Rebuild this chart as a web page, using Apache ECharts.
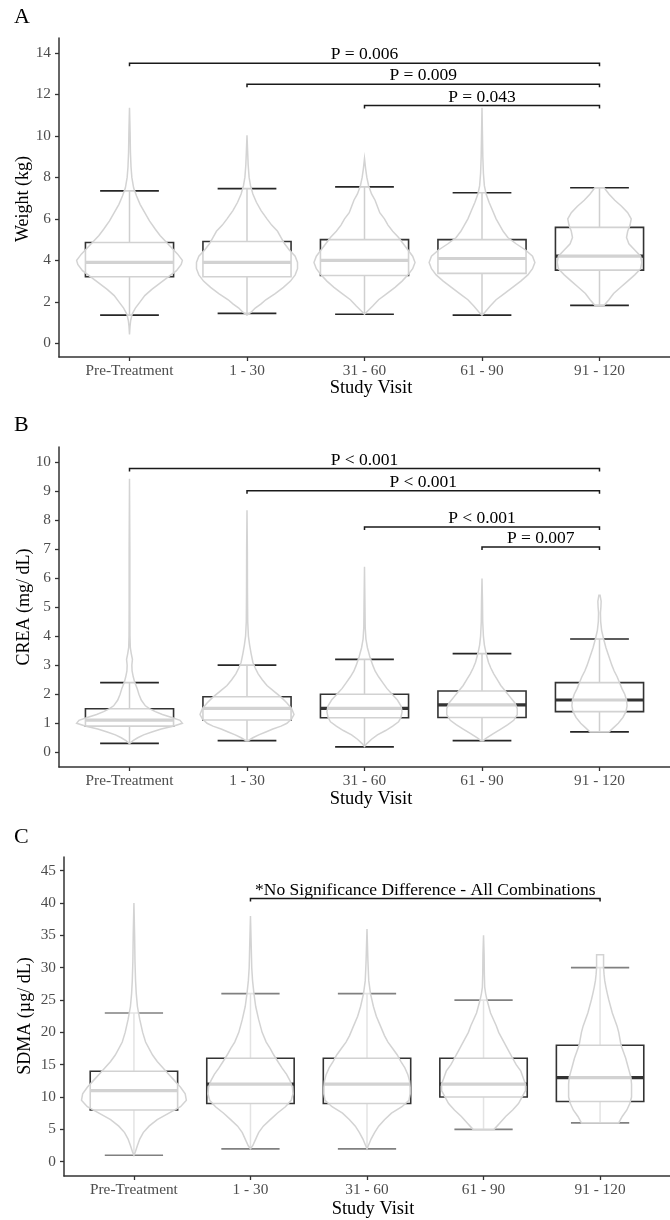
<!DOCTYPE html>
<html><head><meta charset="utf-8">
<script src="https://cdn.jsdelivr.net/npm/echarts@6/dist/echarts.min.js"></script>
<style>html,body{margin:0;padding:0;background:#fff}#chart{width:670px;height:1220px}</style>
</head><body><div id="chart"></div>
<script>
// ---------- shared ----------
const categories = ['Pre-Treatment', '1 - 30', '31 - 60', '61 - 90', '91 - 120'];
const categoryTicks = [0, 1, 2, 3, 4];

// ---------- Panel A : Weight (kg) ----------
const weightTicks = [0, 2, 4, 6, 8, 10, 12, 14];
const weightMin    = [1.36, 1.44, 1.40, 1.36, 1.83];
const weightQ1     = [3.21, 3.21, 3.27, 3.37, 3.53];
const weightMedian = [3.90, 3.90, 4.00, 4.09, 4.20];
const weightQ3     = [4.86, 4.91, 5.00, 5.00, 5.59];
const weightMax    = [7.35, 7.46, 7.54, 7.26, 7.50];
// violin profiles: [value, half-width in category units]
const weightViolinPre = [[0.43,0],[0.8,0.004],[1.1,0.01],[1.4,0.022],[1.7,0.05],[2.0,0.09],[2.3,0.13],[2.6,0.19],[2.9,0.26],[3.2,0.33],[3.5,0.4],[3.8,0.44],[4.0,0.45],[4.3,0.41],[4.6,0.36],[4.9,0.31],[5.2,0.26],[5.5,0.22],[5.9,0.17],[6.3,0.13],[6.7,0.09],[7.1,0.06],[7.5,0.035],[8.0,0.02],[8.5,0.013],[9.2,0.008],[10.2,0.005],[11.36,0]];
const weightViolin1 = [[1.36,0],[1.5,0.035],[1.7,0.07],[1.9,0.12],[2.1,0.16],[2.4,0.24],[2.7,0.31],[3.0,0.37],[3.3,0.41],[3.6,0.43],[3.9,0.43],[4.2,0.41],[4.5,0.36],[4.8,0.32],[5.1,0.29],[5.4,0.26],[5.7,0.21],[6.0,0.17],[6.4,0.12],[6.8,0.08],[7.2,0.05],[7.6,0.03],[8.0,0.018],[8.6,0.01],[9.3,0.005],[10.03,0]];
const weightViolin31 = [[1.4,0],[1.55,0.025],[1.8,0.07],[2.1,0.12],[2.4,0.19],[2.7,0.26],[3.0,0.32],[3.3,0.37],[3.6,0.41],[3.9,0.43],[4.2,0.41],[4.5,0.37],[4.8,0.33],[5.1,0.29],[5.4,0.24],[5.7,0.2],[6.0,0.17],[6.3,0.13],[6.6,0.11],[6.9,0.09],[7.2,0.06],[7.6,0.035],[8.0,0.02],[8.4,0.01],[8.91,0]];
const weightViolin61 = [[1.36,0],[1.5,0.025],[1.8,0.07],[2.1,0.12],[2.4,0.19],[2.7,0.26],[3.0,0.33],[3.3,0.39],[3.6,0.43],[3.9,0.45],[4.2,0.43],[4.5,0.37],[4.8,0.29],[5.1,0.22],[5.4,0.18],[5.7,0.15],[6.0,0.12],[6.4,0.09],[6.8,0.06],[7.2,0.035],[7.6,0.02],[8.2,0.012],[9.0,0.007],[10.0,0.004],[11.36,0]];
const weightViolin91 = [[1.83,0.04],[2.1,0.08],[2.4,0.12],[2.7,0.18],[3.0,0.24],[3.3,0.3],[3.6,0.35],[3.9,0.36],[4.2,0.35],[4.5,0.3],[4.8,0.25],[5.1,0.23],[5.4,0.24],[5.7,0.26],[6.0,0.27],[6.3,0.24],[6.6,0.19],[6.9,0.13],[7.2,0.08],[7.5,0.04]];
const weightBracketFrom = [0, 1, 2];
const weightBracketTo = [4, 4, 4];
const weightBracketY = [13.5, 12.49, 11.46];
const weightBracketLabels = ['P = 0.006', 'P = 0.009', 'P = 0.043'];

// ---------- Panel B : CREA (mg/ dL) ----------
const creaTicks = [0, 1, 2, 3, 4, 5, 6, 7, 8, 9, 10];
const creaMin    = [0.31, 0.40, 0.19, 0.40, 0.70];
const creaQ1     = [0.90, 1.11, 1.19, 1.20, 1.40];
const creaMedian = [1.11, 1.51, 1.51, 1.63, 1.80];
const creaQ3     = [1.50, 1.91, 2.00, 2.11, 2.40];
const creaMax    = [2.40, 3.00, 3.20, 3.40, 3.90];
const creaViolinPre = [[0.3,0],[0.4,0.03],[0.5,0.07],[0.6,0.12],[0.7,0.19],[0.8,0.27],[0.9,0.37],[1.0,0.45],[1.1,0.43],[1.2,0.36],[1.3,0.28],[1.4,0.22],[1.5,0.17],[1.6,0.135],[1.8,0.1],[2.0,0.08],[2.2,0.065],[2.4,0.045],[2.6,0.032],[2.8,0.022],[3.0,0.02],[3.2,0.025],[3.4,0.015],[3.6,0.007],[4.0,0.004],[5.0,0.003],[7.0,0.003],[9.42,0]];
const creaViolin1 = [[0.4,0.01],[0.5,0.05],[0.6,0.1],[0.7,0.16],[0.8,0.22],[0.9,0.29],[1.0,0.34],[1.15,0.38],[1.3,0.4],[1.5,0.38],[1.7,0.34],[1.9,0.29],[2.1,0.23],[2.3,0.17],[2.5,0.13],[2.7,0.095],[2.9,0.07],[3.1,0.05],[3.4,0.035],[3.7,0.022],[4.0,0.012],[4.5,0.006],[5.5,0.004],[7.0,0.003],[8.33,0]];
const creaViolin31 = [[0.2,0],[0.3,0.02],[0.45,0.06],[0.6,0.11],[0.75,0.18],[0.9,0.24],[1.05,0.29],[1.2,0.31],[1.4,0.32],[1.6,0.31],[1.8,0.28],[2.0,0.235],[2.2,0.19],[2.4,0.155],[2.6,0.12],[2.8,0.09],[3.0,0.07],[3.3,0.045],[3.6,0.025],[3.9,0.012],[4.3,0.006],[5.0,0.004],[6.39,0]];
const creaViolin61 = [[0.4,0.01],[0.5,0.04],[0.65,0.1],[0.8,0.16],[0.95,0.22],[1.1,0.27],[1.3,0.3],[1.5,0.3],[1.7,0.28],[1.9,0.24],[2.1,0.2],[2.3,0.16],[2.5,0.13],[2.7,0.1],[2.9,0.075],[3.1,0.055],[3.4,0.035],[3.7,0.02],[4.0,0.012],[4.5,0.006],[5.2,0.004],[5.98,0]];
const creaViolin91 = [[0.7,0.08],[0.85,0.12],[1.0,0.16],[1.2,0.2],[1.4,0.225],[1.6,0.235],[1.8,0.23],[2.0,0.215],[2.2,0.19],[2.4,0.17],[2.6,0.15],[2.8,0.125],[3.0,0.105],[3.3,0.08],[3.6,0.055],[3.9,0.035],[4.2,0.018],[4.5,0.01],[4.8,0.008],[5.0,0.012],[5.2,0.014],[5.41,0.005]];
const creaBracketFrom = [0, 1, 2, 3];
const creaBracketTo = [4, 4, 4, 4];
const creaBracketY = [9.77, 9.0, 7.76, 7.07];
const creaBracketLabels = ['P < 0.001', 'P < 0.001', 'P < 0.001', 'P = 0.007'];

// ---------- Panel C : SDMA (µg/ dL) ----------
const sdmaTicks = [0, 5, 10, 15, 20, 25, 30, 35, 40, 45];
const sdmaMin    = [1, 2, 2, 5, 6];
const sdmaQ1     = [8, 9, 9, 10, 9.3];
const sdmaMedian = [11, 12, 12, 12, 13];
const sdmaQ3     = [14, 16, 16, 16, 18];
const sdmaMax    = [23, 26, 26, 25, 30];
const sdmaViolinPre = [[1,0],[1.5,0.012],[2.5,0.03],[3.5,0.05],[4.5,0.08],[5.5,0.13],[6.5,0.2],[7.5,0.3],[8.5,0.4],[9.5,0.45],[10.5,0.44],[11.5,0.4],[12.5,0.35],[13.5,0.3],[14.5,0.25],[15.5,0.2],[16.5,0.16],[17.5,0.13],[18.5,0.1],[20,0.075],[22,0.05],[24,0.03],[26,0.02],[28,0.014],[31,0.009],[35,0.006],[40,0]];
const sdmaViolin1 = [[2,0],[2.5,0.02],[3.5,0.045],[4.5,0.07],[5.5,0.11],[6.5,0.17],[7.5,0.23],[8.5,0.3],[9.5,0.35],[10.5,0.365],[11.5,0.36],[12.5,0.34],[13.5,0.31],[14.5,0.27],[15.5,0.235],[16.5,0.2],[17.5,0.17],[18.5,0.135],[20,0.1],[22,0.07],[24,0.045],[26,0.03],[28,0.018],[30,0.011],[33,0.007],[38,0]];
const sdmaViolin31 = [[2,0],[2.5,0.012],[3.5,0.035],[4.5,0.065],[5.5,0.1],[6.5,0.15],[7.5,0.21],[8.5,0.3],[9.5,0.36],[10.5,0.37],[11.5,0.37],[12.5,0.365],[13.5,0.35],[14.5,0.325],[15.5,0.29],[16.5,0.26],[17.5,0.22],[18.5,0.18],[19.5,0.15],[21,0.115],[22.5,0.08],[24,0.055],[26,0.03],[28,0.015],[31,0.008],[36,0]];
const sdmaViolin61 = [[5,0.09],[6,0.14],[7,0.19],[8,0.25],[9,0.3],[10,0.33],[11,0.36],[12,0.36],[13,0.34],[14,0.32],[15,0.28],[16,0.25],[17,0.22],[18,0.19],[19,0.16],[20,0.13],[21,0.11],[22,0.085],[23,0.06],[24,0.045],[25,0.03],[26,0.018],[27,0.01],[29,0.007],[32,0.005],[35,0]];
const sdmaViolin91 = [[6,0.16],[7,0.19],[8,0.23],[9,0.255],[10,0.27],[11,0.27],[12,0.27],[13,0.265],[14,0.25],[15,0.235],[16,0.22],[17,0.2],[18,0.18],[19,0.17],[20,0.16],[21,0.145],[22,0.125],[23,0.105],[24,0.09],[25,0.075],[26,0.062],[27,0.05],[28,0.04],[29,0.034],[30,0.03],[31,0.03],[32,0.03]];
const sdmaBracketFrom = [1];
const sdmaBracketTo = [4];
const sdmaBracketY = [40.7];
const sdmaBracketLabels = ['*No Significance Difference - All Combinations'];

// ---------- rendering helpers ----------
const FONT = '"Liberation Serif", "Times New Roman", serif';
const BOX_HALF = 0.375, CAP_HALF = 0.25;

function boxRender(capColor) {
  return function (params, api) {
    const i = api.value(0);
    const mn = api.value(1), q1 = api.value(2), md = api.value(3), q3 = api.value(4), mx = api.value(5);
    const c = (x, y) => api.coord([x, y]);
    const dark = '#333333';
    const cTop1 = c(i - CAP_HALF, mx), cTop2 = c(i + CAP_HALF, mx);
    const cBot1 = c(i - CAP_HALF, mn), cBot2 = c(i + CAP_HALF, mn);
    const vTop = c(i, mx), vBot = c(i, mn);
    const bTL = c(i - BOX_HALF, q3), bBR = c(i + BOX_HALF, q1);
    const m1 = c(i - BOX_HALF, md), m2 = c(i + BOX_HALF, md);
    return {
      type: 'group', children: [
        { type: 'line', shape: { x1: vTop[0], y1: vTop[1], x2: vBot[0], y2: vBot[1] }, style: { stroke: capColor, lineWidth: 1.5 } },
        { type: 'line', shape: { x1: cTop1[0], y1: cTop1[1], x2: cTop2[0], y2: cTop2[1] }, style: { stroke: capColor, lineWidth: 1.7 } },
        { type: 'line', shape: { x1: cBot1[0], y1: cBot1[1], x2: cBot2[0], y2: cBot2[1] }, style: { stroke: capColor, lineWidth: 1.7 } },
        { type: 'rect', shape: { x: bTL[0], y: bTL[1], width: bBR[0] - bTL[0], height: bBR[1] - bTL[1] }, style: { fill: '#ffffff', stroke: dark, lineWidth: 1.6 } },
        { type: 'line', shape: { x1: m1[0], y1: m1[1], x2: m2[0], y2: m2[1] }, style: { stroke: dark, lineWidth: 3.2 } }
      ]
    };
  };
}

function violinRender(profiles) {
  return function (params, api) {
    const i = api.value(0);
    const prof = profiles[params.dataIndex];
    const left = prof.map(p => api.coord([i - p[1], p[0]]));
    const right = prof.slice().reverse().map(p => api.coord([i + p[1], p[0]]));
    return {
      type: 'polygon',
      shape: { points: left.concat(right) },
      style: { fill: 'rgba(255,255,255,0.78)', stroke: '#d3d3d3', lineWidth: 1.5 }
    };
  };
}

function bracketRender(labels) {
  return function (params, api) {
    const a = api.coord([api.value(0), api.value(2)]);
    const b = api.coord([api.value(1), api.value(2)]);
    const tip = 3;
    return {
      type: 'group', children: [
        { type: 'polyline', shape: { points: [[a[0], a[1] + tip], [a[0], a[1]], [b[0], b[1]], [b[0], b[1] + tip]] }, style: { stroke: '#1a1a1a', lineWidth: 1.5, fill: 'none' } },
        { type: 'text', x: (a[0] + b[0]) / 2, y: a[1] - 8.5, style: { text: labels[params.dataIndex], fill: '#000', font: '17.5px ' + FONT, align: 'center', verticalAlign: 'middle' } }
      ]
    };
  };
}

function xAxisCfg(k) {
  return {
    type: 'value', gridIndex: k, min: -0.6, max: 4.6,
    splitLine: { show: false },
    axisLine: { show: true, onZero: false, lineStyle: { color: '#333', width: 1.5 } },
    axisTick: { show: true, customValues: categoryTicks, length: 4, lineStyle: { color: '#333', width: 1.3 } },
    axisLabel: { customValues: categoryTicks, formatter: v => categories[Math.round(v)], color: '#4d4d4d', fontFamily: FONT, fontSize: 15.3, margin: 6 }
  };
}
function yAxisCfg(k, min, max, ticks) {
  return {
    type: 'value', gridIndex: k, min: min, max: max,
    splitLine: { show: false },
    axisLine: { show: true, onZero: false, lineStyle: { color: '#333', width: 1.5 } },
    axisTick: { show: true, customValues: ticks, length: 4, lineStyle: { color: '#333', width: 1.3 } },
    axisLabel: { customValues: ticks, color: '#4d4d4d', fontFamily: FONT, fontSize: 15.3, margin: 8 }
  };
}

function panelSeries(k, mins, q1s, meds, q3s, maxs, violins, bFrom, bTo, bY, bLabels, capColor) {
  return [
    { type: 'custom', xAxisIndex: k, yAxisIndex: k, silent: true, z: 2,
      renderItem: boxRender(capColor),
      encode: { x: 0, y: [1, 2, 3, 4, 5] },
      data: categoryTicks.map(i => [i, mins[i], q1s[i], meds[i], q3s[i], maxs[i]]) },
    { type: 'custom', xAxisIndex: k, yAxisIndex: k, silent: true, z: 3,
      renderItem: violinRender(violins),
      encode: { x: 0, y: [1, 2] },
      data: categoryTicks.map(i => [i, violins[i][0][0], violins[i][violins[i].length - 1][0]]) },
    { type: 'custom', xAxisIndex: k, yAxisIndex: k, silent: true, z: 4,
      renderItem: bracketRender(bLabels),
      encode: { x: [0, 1], y: 2 },
      data: bFrom.map((f, j) => [f, bTo[j], bY[j]]) }
  ];
}

const chart = echarts.init(document.getElementById('chart'), null, { renderer: 'canvas' });
const titleStyle = (size) => ({ fill: '#000', font: size + 'px ' + FONT, align: 'center', verticalAlign: 'middle' });

chart.setOption({
  animation: false,
  backgroundColor: '#ffffff',
  grid: [
    { left: 59, top: 38, width: 624, height: 319 },
    { left: 59, top: 447, width: 624, height: 320 },
    { left: 64, top: 857, width: 619, height: 319 }
  ],
  xAxis: [xAxisCfg(0), xAxisCfg(1), xAxisCfg(2)],
  yAxis: [
    yAxisCfg(0, -0.66, 14.72, weightTicks),
    yAxisCfg(1, -0.506, 10.51, creaTicks),
    yAxisCfg(2, -2.21, 47.12, sdmaTicks)
  ],
  series: [].concat(
    panelSeries(0, weightMin, weightQ1, weightMedian, weightQ3, weightMax,
      [weightViolinPre, weightViolin1, weightViolin31, weightViolin61, weightViolin91],
      weightBracketFrom, weightBracketTo, weightBracketY, weightBracketLabels, '#262626'),
    panelSeries(1, creaMin, creaQ1, creaMedian, creaQ3, creaMax,
      [creaViolinPre, creaViolin1, creaViolin31, creaViolin61, creaViolin91],
      creaBracketFrom, creaBracketTo, creaBracketY, creaBracketLabels, '#262626'),
    panelSeries(2, sdmaMin, sdmaQ1, sdmaMedian, sdmaQ3, sdmaMax,
      [sdmaViolinPre, sdmaViolin1, sdmaViolin31, sdmaViolin61, sdmaViolin91],
      sdmaBracketFrom, sdmaBracketTo, sdmaBracketY, sdmaBracketLabels, '#808080')
  ),
  graphic: [
    { type: 'text', left: 14, top: 6, style: { text: 'A', fill: '#000', font: '22px ' + FONT } },
    { type: 'text', left: 14, top: 414, style: { text: 'B', fill: '#000', font: '22px ' + FONT } },
    { type: 'text', left: 14, top: 826, style: { text: 'C', fill: '#000', font: '22px ' + FONT } },
    { type: 'text', x: 23, y: 199, rotation: Math.PI / 2, style: Object.assign({ text: 'Weight (kg)' }, titleStyle(18)) },
    { type: 'text', x: 24, y: 607, rotation: Math.PI / 2, style: Object.assign({ text: 'CREA (mg/ dL)' }, titleStyle(18)) },
    { type: 'text', x: 25, y: 1016, rotation: Math.PI / 2, style: Object.assign({ text: 'SDMA (µg/ dL)' }, titleStyle(18)) },
    { type: 'text', x: 371, y: 388, style: Object.assign({ text: 'Study Visit' }, titleStyle(18.5)) },
    { type: 'text', x: 371, y: 799, style: Object.assign({ text: 'Study Visit' }, titleStyle(18.5)) },
    { type: 'text', x: 373, y: 1209, style: Object.assign({ text: 'Study Visit' }, titleStyle(18.5)) }
  ]
});
</script>
</body></html>
